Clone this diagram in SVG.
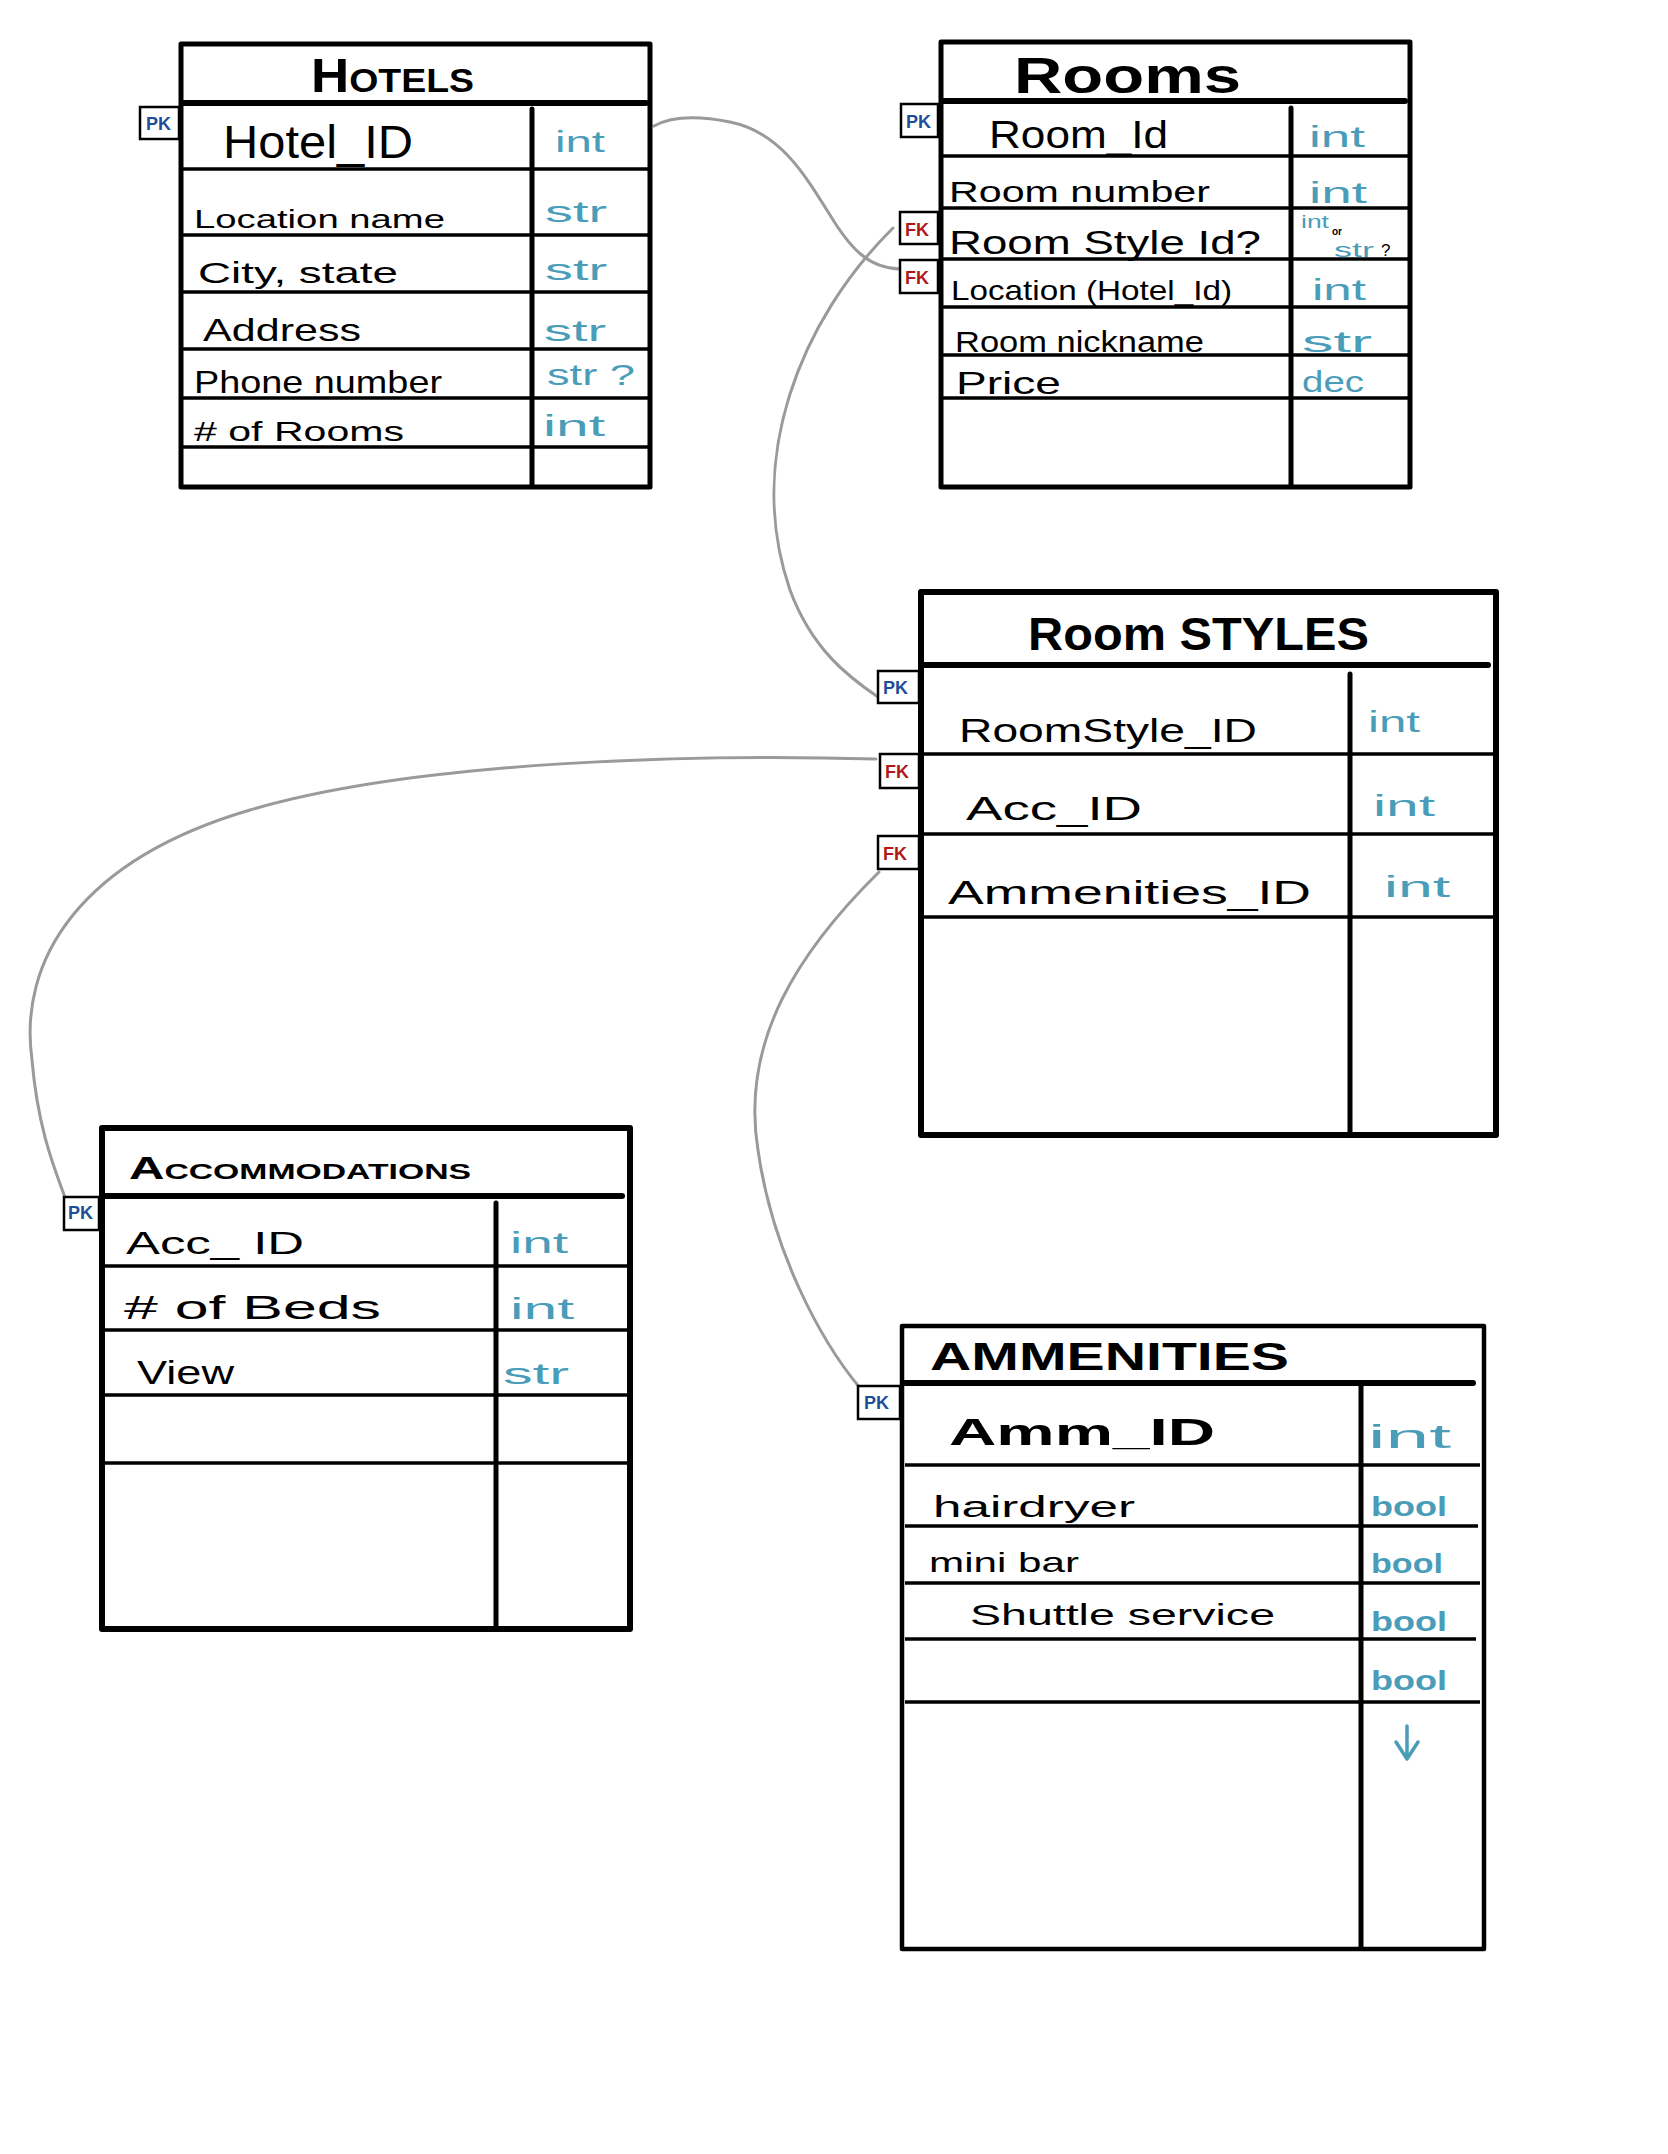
<svg xmlns="http://www.w3.org/2000/svg" width="1668" height="2154" viewBox="0 0 1668 2154">
<style>
  .box{fill:#fff;stroke:#000;stroke-width:5;stroke-linejoin:round}
  .hd{stroke:#000;stroke-width:6;stroke-linecap:round}
  .dv{stroke:#000;stroke-width:5;stroke-linecap:round}
  .rw{stroke:#000;stroke-width:3.5}
  .ttl{font-family:"Liberation Sans",Arial,sans-serif;fill:#000;font-weight:bold}
  .f{font-family:"Liberation Sans",Arial,sans-serif;fill:#000}
  .t{font-family:"Liberation Sans",Arial,sans-serif;fill:#4a9db8}
  .kb{fill:#fff;stroke:#000;stroke-width:2.5}
  .pk{font-family:"Liberation Sans",Arial,sans-serif;fill:#1f4e99;font-weight:bold;font-size:18px}
  .fk{font-family:"Liberation Sans",Arial,sans-serif;fill:#b01818;font-weight:bold;font-size:18px}
  .con{fill:none;stroke:#9a9a9a;stroke-width:3;stroke-linecap:round}
</style>

<g id="connectors">
  <path class="con" d="M 654 126 C 672 116 700 116 730 122 C 780 132 805 175 830 215 C 850 248 868 268 900 269"/>
  <path class="con" d="M 893 228 C 800 320 745 460 790 590 C 812 650 850 678 878 697"/>
  <path class="con" d="M 876 759 C 700 754 420 760 250 810 C 80 860 18 960 32 1060 C 38 1130 55 1170 66 1200"/>
  <path class="con" d="M 879 872 C 800 950 740 1040 758 1150 C 772 1250 820 1340 860 1388"/>
</g>

<g id="hotels">
  <rect class="box" x="181" y="44" width="469" height="443"/>
  <line class="hd" x1="183" y1="103" x2="646" y2="103"/>
  <line class="dv" x1="532" y1="109" x2="532" y2="485"/>
  <line class="rw" x1="183" y1="169" x2="649" y2="169"/>
  <line class="rw" x1="183" y1="235" x2="649" y2="235"/>
  <line class="rw" x1="183" y1="292" x2="649" y2="292"/>
  <line class="rw" x1="183" y1="349" x2="649" y2="349"/>
  <line class="rw" x1="183" y1="398" x2="649" y2="398"/>
  <line class="rw" x1="183" y1="447" x2="649" y2="447"/>
  <text class="ttl" x="311" y="92" font-size="48" style="font-variant:small-caps" textLength="163" lengthAdjust="spacingAndGlyphs">Hotels</text>
  <rect class="kb" x="140" y="107" width="39" height="32"/>
  <text class="pk" x="146" y="130">PK</text>
  <text class="f" x="223" y="158" font-size="46" textLength="190" lengthAdjust="spacingAndGlyphs">Hotel_ID</text>
  <text class="t" x="555" y="152" font-size="30" textLength="50" lengthAdjust="spacingAndGlyphs">int</text>
  <text class="f" x="194" y="228" font-size="26" textLength="251" lengthAdjust="spacingAndGlyphs">Location name</text>
  <text class="t" x="545" y="222" font-size="30" textLength="62" lengthAdjust="spacingAndGlyphs">str</text>
  <text class="f" x="198" y="283" font-size="30" textLength="200" lengthAdjust="spacingAndGlyphs">City, state</text>
  <text class="t" x="545" y="280" font-size="30" textLength="62" lengthAdjust="spacingAndGlyphs">str</text>
  <text class="f" x="203" y="341" font-size="32" textLength="158" lengthAdjust="spacingAndGlyphs">Address</text>
  <text class="t" x="544" y="341" font-size="30" textLength="62" lengthAdjust="spacingAndGlyphs">str</text>
  <text class="f" x="194" y="393" font-size="32" textLength="248" lengthAdjust="spacingAndGlyphs">Phone number</text>
  <text class="t" x="547" y="385" font-size="30" textLength="88" lengthAdjust="spacingAndGlyphs">str ?</text>
  <text class="f" x="194" y="441" font-size="28" textLength="210" lengthAdjust="spacingAndGlyphs"># of Rooms</text>
  <text class="t" x="543" y="436" font-size="30" textLength="62" lengthAdjust="spacingAndGlyphs">int</text>
</g>

<g id="rooms">
  <rect class="box" x="941" y="42" width="469" height="445"/>
  <line class="hd" x1="943" y1="101" x2="1405" y2="101"/>
  <line class="dv" x1="1291" y1="108" x2="1291" y2="485"/>
  <line class="rw" x1="943" y1="156" x2="1408" y2="156"/>
  <line class="rw" x1="943" y1="208" x2="1408" y2="208"/>
  <line class="rw" x1="943" y1="259" x2="1408" y2="259"/>
  <line class="rw" x1="943" y1="307" x2="1408" y2="307"/>
  <line class="rw" x1="943" y1="355" x2="1408" y2="355"/>
  <line class="rw" x1="943" y1="398" x2="1408" y2="398"/>
  <text class="ttl" x="1014" y="93" font-size="50" textLength="227" lengthAdjust="spacingAndGlyphs">Rooms</text>
  <rect class="kb" x="901" y="104" width="37" height="33"/>
  <text class="pk" x="906" y="128">PK</text>
  <rect class="kb" x="900" y="212" width="38" height="32"/>
  <text class="fk" x="905" y="236">FK</text>
  <rect class="kb" x="900" y="260" width="38" height="33"/>
  <text class="fk" x="905" y="284">FK</text>
  <text class="f" x="989" y="148" font-size="38" textLength="179" lengthAdjust="spacingAndGlyphs">Room_Id</text>
  <text class="t" x="1309" y="147" font-size="30" textLength="56" lengthAdjust="spacingAndGlyphs">int</text>
  <text class="f" x="949" y="202" font-size="30" textLength="261" lengthAdjust="spacingAndGlyphs">Room number</text>
  <text class="t" x="1309" y="203" font-size="30" textLength="58" lengthAdjust="spacingAndGlyphs">int</text>
  <text class="f" x="949" y="254" font-size="34" textLength="312" lengthAdjust="spacingAndGlyphs">Room Style Id?</text>
  <text class="t" x="1301" y="228" font-size="19" textLength="28" lengthAdjust="spacingAndGlyphs">int</text>
  <text class="f" x="1332" y="235" font-size="10" font-weight="bold">or</text>
  <text class="t" x="1334" y="257" font-size="20" textLength="40" lengthAdjust="spacingAndGlyphs">str</text>
  <text class="f" x="1381" y="256" font-size="17">?</text>
  <text class="f" x="951" y="300" font-size="28" textLength="281" lengthAdjust="spacingAndGlyphs">Location (Hotel_Id)</text>
  <text class="t" x="1312" y="300" font-size="30" textLength="54" lengthAdjust="spacingAndGlyphs">int</text>
  <text class="f" x="955" y="352" font-size="30" textLength="249" lengthAdjust="spacingAndGlyphs">Room nickname</text>
  <text class="t" x="1302" y="352" font-size="30" textLength="70" lengthAdjust="spacingAndGlyphs">str</text>
  <text class="f" x="956" y="394" font-size="32" textLength="105" lengthAdjust="spacingAndGlyphs">Price</text>
  <text class="t" x="1302" y="392" font-size="30" textLength="62" lengthAdjust="spacingAndGlyphs">dec</text>
</g>

<g id="room-styles">
  <rect class="box" x="921" y="592" width="575" height="543" style="stroke-width:6"/>
  <line class="hd" x1="924" y1="665" x2="1488" y2="665"/>
  <line class="dv" x1="1350" y1="674" x2="1350" y2="1132"/>
  <line class="rw" x1="924" y1="754" x2="1493" y2="754"/>
  <line class="rw" x1="924" y1="834" x2="1493" y2="834"/>
  <line class="rw" x1="924" y1="917" x2="1493" y2="917"/>
  <text class="ttl" x="1028" y="650" font-size="46" textLength="341" lengthAdjust="spacingAndGlyphs">Room STYLES</text>
  <rect class="kb" x="878" y="671" width="41" height="32"/>
  <text class="pk" x="883" y="694" font-weight="normal">PK</text>
  <rect class="kb" x="880" y="754" width="39" height="34"/>
  <text class="fk" x="885" y="778" font-weight="normal">FK</text>
  <rect class="kb" x="878" y="836" width="41" height="33"/>
  <text class="fk" x="883" y="860" font-weight="normal">FK</text>
  <text class="f" x="959" y="742" font-size="34" textLength="298" lengthAdjust="spacingAndGlyphs">RoomStyle_ID</text>
  <text class="t" x="1368" y="732" font-size="30" textLength="52" lengthAdjust="spacingAndGlyphs">int</text>
  <text class="f" x="966" y="820" font-size="34" textLength="176" lengthAdjust="spacingAndGlyphs">Acc_ID</text>
  <text class="t" x="1373" y="816" font-size="30" textLength="62" lengthAdjust="spacingAndGlyphs">int</text>
  <text class="f" x="948" y="904" font-size="34" textLength="363" lengthAdjust="spacingAndGlyphs">Ammenities_ID</text>
  <text class="t" x="1384" y="897" font-size="30" textLength="66" lengthAdjust="spacingAndGlyphs">int</text>
</g>

<g id="accommodations">
  <rect class="box" x="102" y="1128" width="528" height="501" style="stroke-width:6"/>
  <line class="hd" x1="105" y1="1196" x2="622" y2="1196"/>
  <line class="dv" x1="496" y1="1203" x2="496" y2="1626"/>
  <line class="rw" x1="105" y1="1266" x2="628" y2="1266"/>
  <line class="rw" x1="105" y1="1330" x2="628" y2="1330"/>
  <line class="rw" x1="105" y1="1395" x2="628" y2="1395"/>
  <line class="rw" x1="105" y1="1463" x2="628" y2="1463"/>
  <text class="ttl" x="129" y="1179" font-size="32" style="font-variant:small-caps" textLength="342" lengthAdjust="spacingAndGlyphs">Accommodations</text>
  <rect class="kb" x="64" y="1197" width="35" height="33"/>
  <text class="pk" x="68" y="1219" font-size="16">PK</text>
  <text class="f" x="126" y="1254" font-size="32" textLength="178" lengthAdjust="spacingAndGlyphs">Acc_ ID</text>
  <text class="t" x="510" y="1253" font-size="30" textLength="58" lengthAdjust="spacingAndGlyphs">int</text>
  <text class="f" x="124" y="1319" font-size="34" textLength="257" lengthAdjust="spacingAndGlyphs"># of Beds</text>
  <text class="t" x="510" y="1319" font-size="30" textLength="64" lengthAdjust="spacingAndGlyphs">int</text>
  <text class="f" x="137" y="1384" font-size="34" textLength="97" lengthAdjust="spacingAndGlyphs">View</text>
  <text class="t" x="503" y="1384" font-size="30" textLength="66" lengthAdjust="spacingAndGlyphs">str</text>
</g>

<g id="ammenities">
  <rect class="box" x="902" y="1326" width="582" height="623" style="stroke-width:4.5"/>
  <line class="hd" x1="905" y1="1383" x2="1473" y2="1383"/>
  <line class="dv" x1="1361" y1="1386" x2="1361" y2="1947"/>
  <line class="rw" x1="905" y1="1465" x2="1480" y2="1465"/>
  <line class="rw" x1="905" y1="1526" x2="1478" y2="1526"/>
  <line class="rw" x1="905" y1="1583" x2="1480" y2="1583"/>
  <line class="rw" x1="905" y1="1639" x2="1476" y2="1639"/>
  <line class="rw" x1="905" y1="1702" x2="1480" y2="1702"/>
  <text class="ttl" x="930" y="1370" font-size="38" font-weight="normal" textLength="359" lengthAdjust="spacingAndGlyphs">AMMENITIES</text>
  <rect class="kb" x="858" y="1386" width="42" height="33"/>
  <text class="pk" x="864" y="1409" font-size="16">PK</text>
  <text class="f" x="949" y="1445" font-size="36" font-weight="bold" textLength="266" lengthAdjust="spacingAndGlyphs">Amm_ID</text>
  <text class="t" x="1368" y="1448" font-size="34" textLength="83" lengthAdjust="spacingAndGlyphs">int</text>
  <text class="f" x="933" y="1517" font-size="30" textLength="202" lengthAdjust="spacingAndGlyphs">hairdryer</text>
  <text class="t" x="1371" y="1516" font-size="28" font-weight="bold" textLength="76" lengthAdjust="spacingAndGlyphs">bool</text>
  <text class="f" x="929" y="1572" font-size="28" textLength="150" lengthAdjust="spacingAndGlyphs">mini bar</text>
  <text class="t" x="1371" y="1573" font-size="28" font-weight="bold" textLength="72" lengthAdjust="spacingAndGlyphs">bool</text>
  <text class="f" x="970" y="1625" font-size="30" textLength="305" lengthAdjust="spacingAndGlyphs">Shuttle service</text>
  <text class="t" x="1371" y="1631" font-size="28" font-weight="bold" textLength="76" lengthAdjust="spacingAndGlyphs">bool</text>
  <text class="t" x="1371" y="1690" font-size="28" font-weight="bold" textLength="76" lengthAdjust="spacingAndGlyphs">bool</text>
  <path d="M 1407 1726 L 1407 1758 M 1396 1742 L 1407 1759 L 1418 1742" fill="none" stroke="#4a9db8" stroke-width="3.5" stroke-linecap="round" stroke-linejoin="round"/>
</g>
</svg>
